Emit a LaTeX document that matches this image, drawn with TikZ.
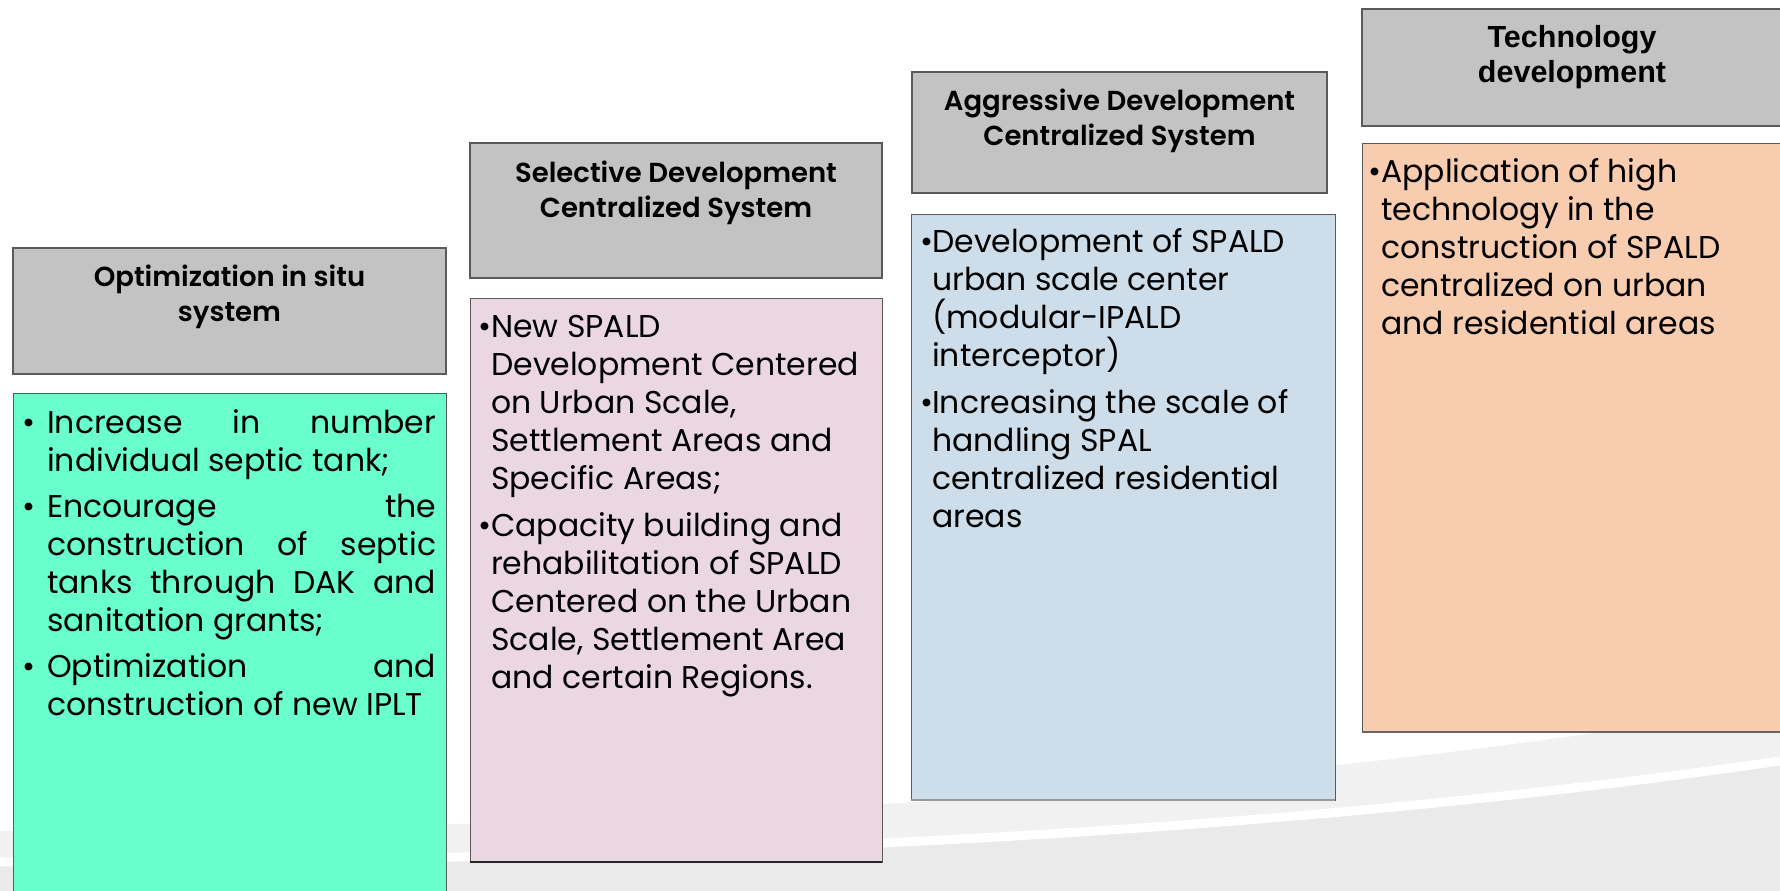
\documentclass[tikz,border=0pt]{standalone}
\usepackage{fontspec}
\setmainfont{Poppins}
\IfFontExistsTF{Poppins SemiBold}{\newfontfamily\headfont{Poppins SemiBold}}{\newfontfamily\headfont{Poppins}[UprightFont=*-Bold]}
\newfontfamily\techfont{Liberation Sans}
\definecolor{hdrgray}{HTML}{C3C3C3}
\definecolor{hdrline}{HTML}{5A5A5A}
\definecolor{mint}{HTML}{69FFCC}
\definecolor{pinkbox}{HTML}{EAD7E2}
\definecolor{bluebox}{HTML}{CDDEEA}
\definecolor{peachbox}{HTML}{F8CCAE}
\definecolor{bandgray}{HTML}{F1F1F1}
\definecolor{lowgray}{HTML}{EAEAEA}
\begin{document}
\begin{tikzpicture}[x=1pt,y=-1pt,
  hdr/.style={draw=hdrline, line width=1.2pt, fill=hdrgray, anchor=north west, inner sep=0pt, outer sep=0pt},
  cbox/.style={draw=hdrline, line width=0.8pt, anchor=north west, inner sep=0pt, outer sep=0pt},
  htext/.style={anchor=north, align=center, inner sep=0pt, font=\fontsize{27.5}{35}\selectfont\headfont},
  btext/.style={anchor=north west, align=left, inner sep=0pt, font=\fontsize{31.5}{38}\selectfont}]
\useasboundingbox (0,0) rectangle (1780,891);
\clip (0,0) rectangle (1780,891);
% background
\fill[white] (0,0) rectangle (1780,891);
\fill[bandgray] (0,831) .. controls (600,830) and (1200,800) .. (1780,705) -- (1780,891) -- (0,891) -- cycle;
\fill[lowgray] (0,862) .. controls (600,860) and (1200,845) .. (1780,761) -- (1780,891) -- (0,891) -- cycle;
\draw[white, line width=9pt] (0,862) .. controls (600,860) and (1200,845) .. (1780,761);
% boxes
\node[hdr, minimum width=433pt, minimum height=126pt] (h1) at (13,248) {};
\node[cbox, fill=mint, minimum width=433pt, minimum height=520pt] (c1) at (13,393) {};
\node[hdr, minimum width=412pt, minimum height=135pt] (h2) at (470,143) {};
\node[cbox, fill=pinkbox, minimum width=412pt, minimum height=564pt] (c2) at (470,298) {};
\node[hdr, minimum width=415pt, minimum height=121pt] (h3) at (912,72) {};
\node[cbox, fill=bluebox, minimum width=424pt, minimum height=586pt] (c3) at (911,214) {};
\node[hdr, minimum width=430pt, minimum height=117pt] (h4) at (1362,9) {};
\node[cbox, fill=peachbox, minimum width=430pt, minimum height=589pt] (c4) at (1362,143) {};
\draw[line width=1.8pt, draw=black!85] (c2.south west) -- (c2.south east);
\draw[line width=2.2pt, draw=black!40] (c3.south west) -- (c3.south east);
\draw[line width=1.6pt, draw=black!60] (c4.south west) -- (c4.south east);
% header texts
\node[htext] (ht1) at (229.5,261.5) {\strut Optimization in situ\\system};
\node[htext] (ht2) at (676,157.5) {\strut Selective Development\\Centralized System};
\node[htext] (ht3) at (1119.5,85.5) {\strut Aggressive Development\\Centralized System};
\node[htext, font=\fontsize{30.5}{35}\selectfont\techfont\bfseries] (ht4) at (1572,22.5) {\strut Technology\\development};
% body texts
\node[btext] (bt1) at (22,406.4) {\strut\makebox[25pt][l]{\textbullet}\makebox[389pt][s]{Increase in number}\\
\hspace*{25pt}individual septic tank;\\[8pt]
\makebox[25pt][l]{\textbullet}\makebox[389pt][s]{Encourage the}\\
\hspace*{25pt}\makebox[389pt][s]{construction of septic}\\
\hspace*{25pt}\makebox[389pt][s]{tanks through DAK and}\\
\hspace*{25pt}sanitation grants;\\[8pt]
\makebox[25pt][l]{\textbullet}\makebox[389pt][s]{Optimization and}\\
\hspace*{25pt}construction of new IPLT};
\node[btext] (bt2) at (478,310.4) {\strut\makebox[13pt][l]{\textbullet}New SPALD\\
\hspace*{13pt}Development Centered\\
\hspace*{13pt}on Urban Scale,\\
\hspace*{13pt}Settlement Areas and\\
\hspace*{13pt}Specific Areas;\\[9pt]
\makebox[13pt][l]{\textbullet}Capacity building and\\
\hspace*{13pt}rehabilitation of SPALD\\
\hspace*{13pt}Centered on the Urban\\
\hspace*{13pt}Scale, Settlement Area\\
\hspace*{13pt}and certain Regions.};
\node[btext] (bt3) at (920,225.4) {\strut\makebox[12pt][l]{\textbullet}Development of SPALD\\
\hspace*{12pt}urban scale center\\
\hspace*{12pt}(modular-IPALD\\
\hspace*{12pt}interceptor)\\[9pt]
\makebox[12pt][l]{\textbullet}Increasing the scale of\\
\hspace*{12pt}handling SPAL\\
\hspace*{12pt}centralized residential\\
\hspace*{12pt}areas};
\node[btext] (bt4) at (1368,155.4) {\strut\makebox[13pt][l]{\textbullet}Application of high\\
\hspace*{13pt}technology in the\\
\hspace*{13pt}construction of SPALD\\
\hspace*{13pt}centralized on urban\\
\hspace*{13pt}and residential areas};
\end{tikzpicture}
\end{document}
